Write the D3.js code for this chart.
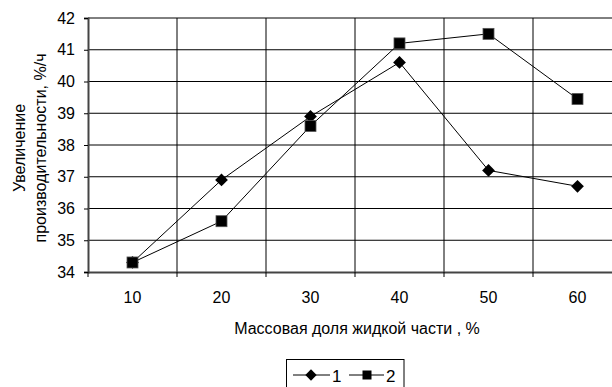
<!DOCTYPE html>
<html><head><meta charset="utf-8">
<script src="https://cdn.jsdelivr.net/npm/d3@7"></script>
<style>body{margin:0;background:#fff}svg{display:block;font-family:"Liberation Sans",Arial,sans-serif}</style>
</head><body>
<svg id="c" width="612" height="387"></svg>
<script>
const categories = [10, 20, 30, 40, 50, 60];
const series1 = [34.3, 36.9, 38.9, 40.6, 37.2, 36.7];
const series2 = [34.3, 35.6, 38.6, 41.2, 41.5, 39.45];
const yTicks = [34, 35, 36, 37, 38, 39, 40, 41, 42];
const seriesNames = ["1", "2"];

const FS = 16;
const svg = d3.select("#c");
const L = 88, R = 622, T = 18, B = 272;
const x = d3.scaleBand().domain(categories).range([L, R]);
const y = d3.scaleLinear().domain([34, 42]).range([B, T]);

// horizontal gridlines
svg.append("g").selectAll("line").data(yTicks.filter(d => d > 34)).join("line")
  .attr("x1", L).attr("x2", R).attr("y1", d => y(d)).attr("y2", d => y(d))
  .attr("stroke", "#000").attr("stroke-width", 1);
// vertical gridlines
svg.append("g").selectAll("line").data(categories.slice(1)).join("line")
  .attr("x1", d => x(d)).attr("x2", d => x(d)).attr("y1", T).attr("y2", B)
  .attr("stroke", "#000").attr("stroke-width", 1);

// y axis
const yAxis = svg.append("g").attr("transform", `translate(${L},0)`)
  .call(d3.axisLeft(y).tickValues(yTicks).tickSize(4).tickPadding(9).tickFormat(d3.format("d")));
yAxis.attr("font-size", FS).attr("font-family", "Liberation Sans, Arial, sans-serif");
yAxis.select(".domain").attr("stroke", "#444").attr("stroke-width", 2);
yAxis.selectAll(".tick line").attr("stroke", "#000");
yAxis.selectAll("text").attr("fill", "#000");

// x axis
const xAxis = svg.append("g").attr("transform", `translate(0,${B})`)
  .call(d3.axisBottom(x).tickSize(0).tickPadding(20));
xAxis.attr("font-size", FS).attr("font-family", "Liberation Sans, Arial, sans-serif");
xAxis.select(".domain").attr("stroke", "#444").attr("stroke-width", 2);
xAxis.selectAll("text").attr("fill", "#000");
// band boundary ticks
svg.append("g").selectAll("line").data(categories).join("line")
  .attr("x1", d => x(d)).attr("x2", d => x(d)).attr("y1", B).attr("y2", B + 5)
  .attr("stroke", "#000");

const cx = d => x(d) + x.bandwidth() / 2;
const line = d3.line().x((d, i) => cx(categories[i])).y(d => y(d));

svg.append("path").datum(series1).attr("d", line).attr("fill", "none").attr("stroke", "#000").attr("stroke-width", 1);
svg.append("path").datum(series2).attr("d", line).attr("fill", "none").attr("stroke", "#000").attr("stroke-width", 1);

svg.append("g").selectAll("path").data(series1).join("path")
  .attr("d", d3.symbol().type(d3.symbolSquare).size(81))
  .attr("transform", (d, i) => `translate(${cx(categories[i])},${y(d)}) rotate(45)`)
  .attr("fill", "#000");
svg.append("g").selectAll("rect").data(series2).join("rect")
  .attr("x", (d, i) => cx(categories[i]) - 5.5).attr("y", d => y(d) - 5.5)
  .attr("width", 11).attr("height", 11).attr("fill", "#000").attr("stroke", "#555").attr("stroke-width", 0.8);

// y title
const yt = svg.append("text").attr("transform", "translate(25,148) rotate(-90)")
  .attr("text-anchor", "middle").attr("font-size", FS).attr("fill", "#000");
yt.append("tspan").attr("x", 0).attr("dy", 0).text("Увеличение");
yt.append("tspan").attr("x", 0).attr("dy", 21).text("производительности, %/ч");

// x title
svg.append("text").attr("x", 357).attr("y", 334).attr("text-anchor", "middle")
  .attr("font-size", FS).attr("fill", "#000").text("Массовая доля жидкой части , %");

// legend
const lg = svg.append("g");
lg.append("rect").attr("x", 286.5).attr("y", 359.5).attr("width", 117.5).attr("height", 30)
  .attr("fill", "none").attr("stroke", "#000").attr("stroke-width", 1);
const items = [{x0: 293, x1: 330, m: 311, tx: 332, name: seriesNames[0], sq: false},
               {x0: 349, x1: 384, m: 367, tx: 386, name: seriesNames[1], sq: true}];
items.forEach(it => {
  lg.append("line").attr("x1", it.x0).attr("x2", it.x1).attr("y1", 375).attr("y2", 375).attr("stroke", "#000");
  if (it.sq) {
    lg.append("rect").attr("x", it.m - 4.5).attr("y", 370.5).attr("width", 9).attr("height", 9).attr("fill", "#000");
  } else {
    lg.append("path").attr("d", d3.symbol().type(d3.symbolSquare).size(64))
      .attr("transform", `translate(${it.m},375) rotate(45)`).attr("fill", "#000");
  }
  lg.append("text").attr("x", it.tx).attr("y", 381.5).attr("font-size", 17).attr("fill", "#000").text(it.name);
});
</script>
</body></html>
